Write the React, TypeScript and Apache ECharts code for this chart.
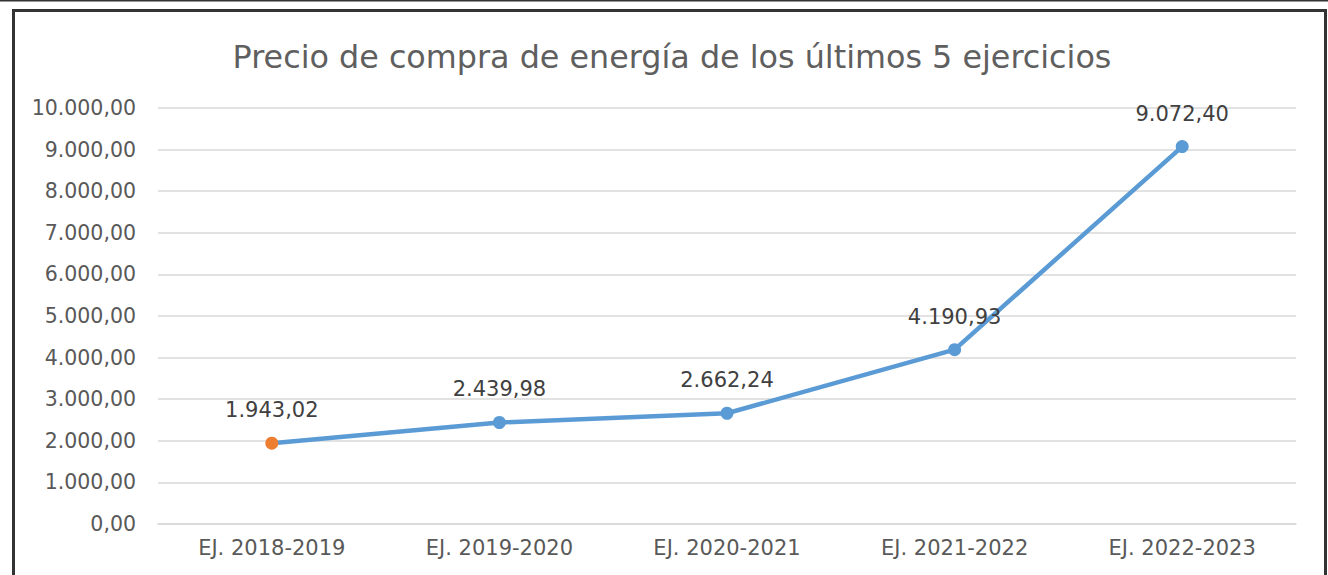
import React, { useEffect, useRef } from "react";
import * as echarts from "echarts";

const categories = ["EJ. 2018-2019", "EJ. 2019-2020", "EJ. 2020-2021", "EJ. 2021-2022", "EJ. 2022-2023"];
const values = [1943.02, 2439.98, 2662.24, 4190.93, 9072.4];
const titleText = "Precio de compra de energía de los últimos 5 ejercicios";

function fmt(v: number): string {
  const fixed = Math.abs(v).toFixed(2);
  const [intPart, dec] = fixed.split(".");
  const withDots = intPart.replace(/\B(?=(\d{3})+(?!\d))/g, ".");
  return (v < 0 ? "-" : "") + withDots + "," + dec;
}

export default function App() {
  const ref = useRef<HTMLDivElement>(null);
  useEffect(() => {
    if (!ref.current) return;
    const chart = echarts.init(ref.current, null, { renderer: "svg" });
    chart.setOption({
      animation: false,
      backgroundColor: "#ffffff",
      title: {
        text: titleText,
        left: 667,
        textAlign: "center",
        top: 35,
        textStyle: { fontFamily: "DejaVu Sans", fontSize: 31.8, fontWeight: "normal", color: "#5f5f5f" },
      },
      graphic: [
        { type: "line", shape: { x1: 0, y1: 0.75, x2: 1328, y2: 0.75 }, style: { stroke: "#333", lineWidth: 1.5 } },
        { type: "rect", shape: { x: 13.5, y: 10.5, width: 1312, height: 600 }, style: { fill: "none", stroke: "#333", lineWidth: 3 } },
      ],
      grid: { left: 158, right: 32, top: 108, bottom: 51, containLabel: false },
      xAxis: {
        type: "category",
        data: categories,
        boundaryGap: true,
        axisLine: { show: true, lineStyle: { color: "#d9d9d9", width: 1.5 } },
        axisTick: { show: false },
        axisLabel: { fontFamily: "DejaVu Sans", fontSize: 21, color: "#595959", margin: 13 },
      },
      yAxis: {
        type: "value",
        min: 0,
        max: 10000,
        interval: 1000,
        axisLine: { show: false },
        axisTick: { show: false },
        splitLine: { lineStyle: { color: "#d9d9d9", width: 1.5 } },
        axisLabel: { fontFamily: "DejaVu Sans", fontSize: 20.5, color: "#595959", margin: 22, formatter: (v: number) => fmt(v) },
      },
      series: [
        {
          type: "line",
          data: values.map((v, i) =>
            i === 0 ? { value: v, itemStyle: { color: "#ED7D31" } } : { value: v }
          ),
          symbol: "circle",
          symbolSize: 13,
          lineStyle: { color: "#5B9BD5", width: 4.5 },
          itemStyle: { color: "#5B9BD5" },
          label: {
            show: true,
            position: "top",
            distance: 16,
            fontFamily: "DejaVu Sans",
            fontSize: 21,
            color: "#404040",
            formatter: (p: any) => fmt(p.value),
          },
        },
      ],
    });
    return () => chart.dispose();
  }, []);
  return (
    <div
      ref={ref}
      style={{ position: "absolute", left: 0, top: 0, width: 1328, height: 575 }}
    />
  );
}
